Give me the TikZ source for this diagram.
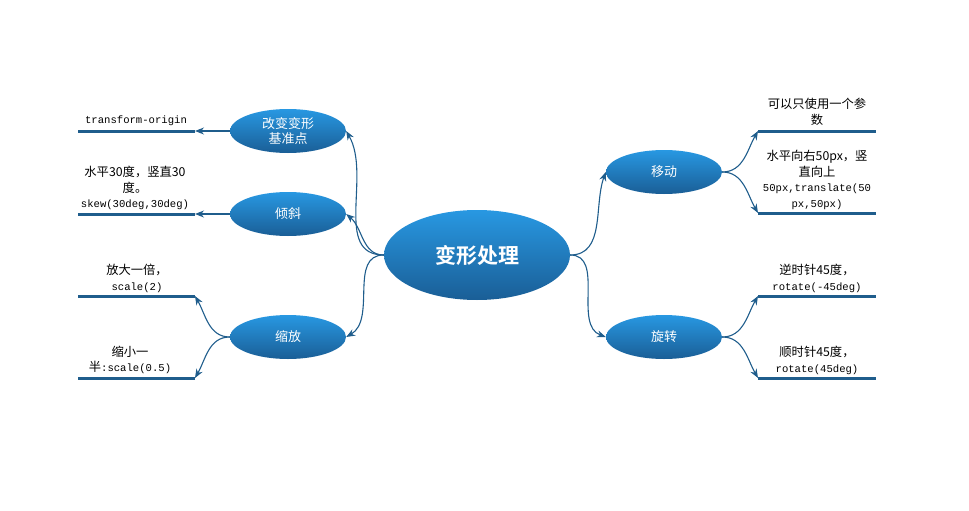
\documentclass[tikz,border=0pt]{standalone}
\usepackage{fontspec}
\setmainfont{Noto Sans CJK SC}
\newfontfamily\codefont{Liberation Mono}
\newfontfamily\boldcjk{Noto Sans CJK SC Bold}
\usetikzlibrary{arrows.meta,shapes.geometric}
\definecolor{lineblue}{RGB}{31,93,140}
\definecolor{topblue}{RGB}{40,152,226}
\definecolor{botblue}{RGB}{26,94,150}
\tikzset{
  bubble/.style={ellipse,minimum width=116pt,minimum height=44pt,inner sep=0pt,
    top color=topblue,bottom color=botblue,draw=none,text=white,font=\fontsize{13pt}{15.5pt}\selectfont,align=center},
  hub/.style={ellipse,minimum width=186pt,minimum height=90pt,inner sep=0pt,
    top color=topblue,bottom color=botblue,draw=none,text=white,font=\boldcjk\fontsize{21pt}{24pt}\selectfont},
  conn/.style={draw=lineblue,line width=1.1pt,-{Stealth[length=9pt,width=7pt]}},
  leafline/.style={draw=lineblue,line width=3pt},
  leaftext/.style={align=center,font=\fontsize{12.3pt}{15.8pt}\selectfont,inner sep=0pt}
}
\newcommand{\cd}[1]{{\codefont\fontsize{10.6pt}{15.8pt}\selectfont #1}}
\begin{document}
\begin{tikzpicture}[x=1pt,y=-1pt]
\useasboundingbox (0,0) rectangle (969,511);
% central and branch nodes
\node[hub] (c) at (477,255) {变形处理};
\node[bubble] (o) at (288,131) {改变变形\\基准点};
\node[bubble] (k) at (288,214) {倾斜};
\node[bubble] (s) at (288,337) {缩放};
\node[bubble] (m) at (664,172) {移动};
\node[bubble] (r) at (664,337) {旋转};
% leaf line ends
\coordinate (lo) at (195,131); \coordinate (lo2) at (78,131);
\coordinate (lk) at (195,214); \coordinate (lk2) at (78,214);
\coordinate (ls1) at (195,296); \coordinate (ls12) at (78,296);
\coordinate (ls2) at (195,378); \coordinate (ls22) at (78,378);
\coordinate (lm1) at (758,131); \coordinate (lm12) at (876,131);
\coordinate (lm2) at (758,213); \coordinate (lm22) at (876,213);
\coordinate (lr1) at (758,296); \coordinate (lr12) at (876,296);
\coordinate (lr2) at (758,378); \coordinate (lr22) at (876,378);
\foreach \a/\b in {lo/lo2,lk/lk2,ls1/ls12,ls2/ls22,lm1/lm12,lm2/lm22,lr1/lr12,lr2/lr22}
  \draw[leafline] (\a) -- (\b);
% texts
\node[leaftext] (to) at (136,121) {\cd{transform-origin}};
\node[leaftext] (tk) at (135,188) {水平30度，竖直30\\度。\\\cd{skew(30deg,30deg)}};
\node[leaftext] (ts1) at (137,278) {放大一倍，\\\cd{scale(2)}};
\node[leaftext] (ts2) at (130,360) {缩小一\\半\cd{:scale(0.5)}};
\node[leaftext] (tm1) at (817,112) {可以只使用一个参\\数};
\node[leaftext] (tm2) at (817,180) {水平向右50px，竖\\直向上\\\cd{50px,translate(50}\\\cd{px,50px)}};
\node[leaftext] (tr1) at (817,278) {逆时针45度，\\\cd{rotate(-45deg)}};
\node[leaftext] (tr2) at (817,360) {顺时针45度，\\\cd{rotate(45deg)}};
% connectors from hub
\draw[conn] (c.west) to[out=180,in=-60] (o.east);
\draw[conn] (c.west) to[out=180,in=-40] (k.east);
\draw[conn] (c.west) to[out=180,in=30] (s.east);
\draw[conn] (c.east) to[out=0,in=-110] (m.west);
\draw[conn] (c.east) to[out=0,in=160] (r.west);
% connectors to leaves
\draw[conn] (o.west) -- (lo);
\draw[conn] (k.west) -- (lk);
\draw[conn] (s.west) to[out=180,in=-60] (ls1);
\draw[conn] (s.west) to[out=180,in=60] (ls2);
\draw[conn] (m.east) to[out=0,in=-120] (lm1);
\draw[conn] (m.east) to[out=0,in=120] (lm2);
\draw[conn] (r.east) to[out=0,in=-120] (lr1);
\draw[conn] (r.east) to[out=0,in=120] (lr2);
\end{tikzpicture}
\end{document}
